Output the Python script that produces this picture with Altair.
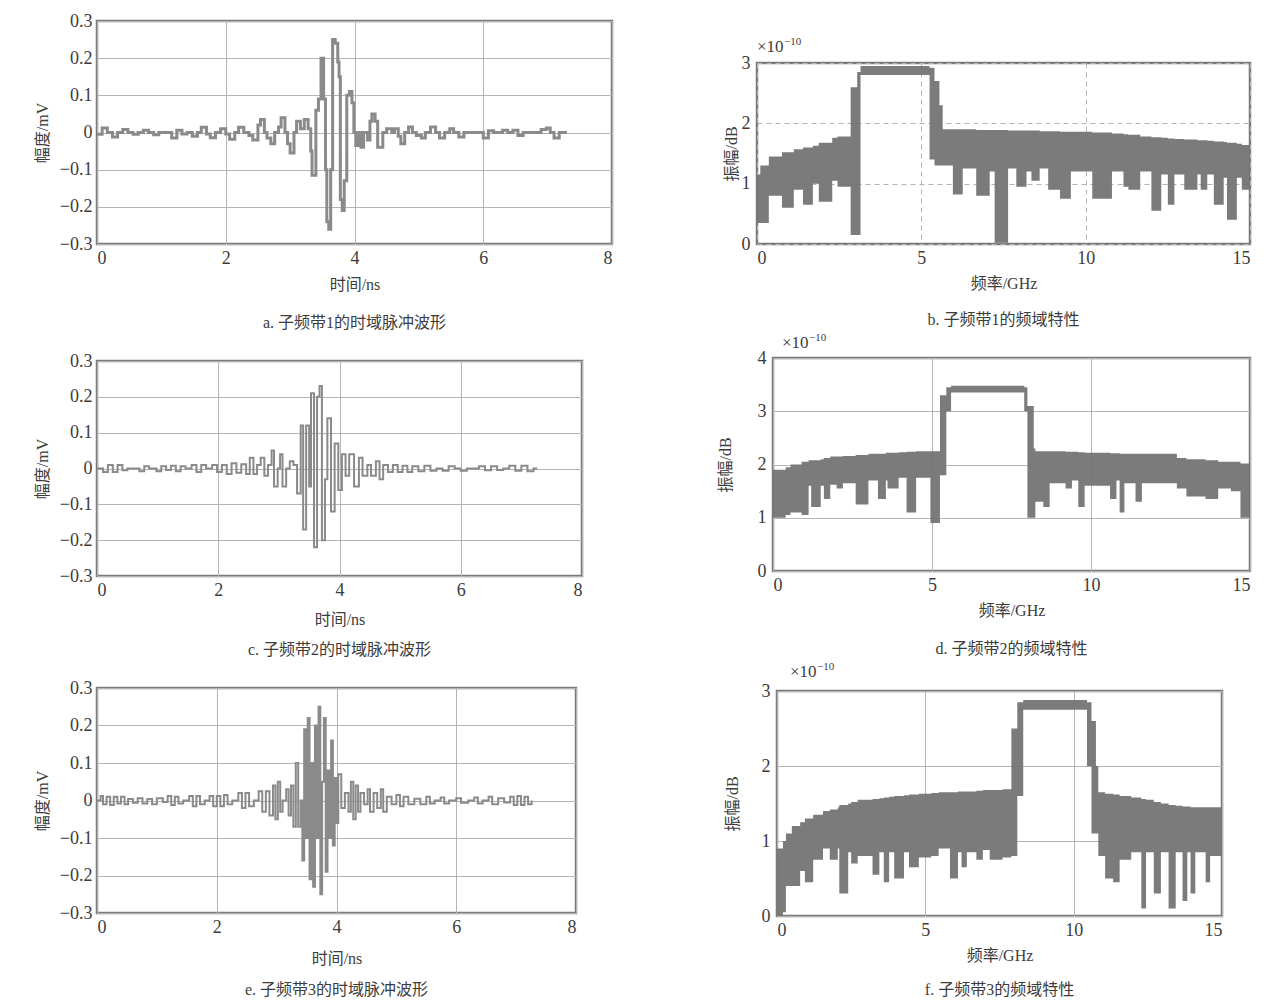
import altair as alt
import pandas as pd

# ---------------- time-domain waveforms (ns, mV) ----------------
t_a = [0.00, 0.08, 0.16, 0.24, 0.32, 0.40, 0.48, 0.56, 0.64, 0.72, 0.80, 0.88, 0.96, 1.16, 1.24,
       1.32, 1.40, 1.48, 1.56, 1.62, 1.70, 1.76, 1.84, 1.92, 2.00, 2.06, 2.14, 2.20, 2.28, 2.36,
       2.42, 2.50, 2.54, 2.60, 2.64, 2.70, 2.76, 2.82, 2.86, 2.92, 2.96, 3.00, 3.06, 3.10, 3.16,
       3.22, 3.28, 3.32, 3.34, 3.40, 3.44, 3.48, 3.52, 3.55, 3.57, 3.60, 3.63, 3.66, 3.70, 3.74,
       3.76, 3.78, 3.81, 3.84, 3.88, 3.92, 3.96, 3.99, 4.02, 4.06, 4.10, 4.14, 4.20, 4.24, 4.27,
       4.32, 4.36, 4.40, 4.44, 4.50, 4.58, 4.62, 4.68, 4.72, 4.78, 4.84, 4.90, 4.96, 5.04, 5.10,
       5.18, 5.26, 5.32, 5.40, 5.48, 5.54, 5.62, 5.70, 6.00, 6.08, 6.16, 6.30, 6.38, 6.46, 6.54,
       6.62, 6.90, 6.98, 7.04, 7.10, 7.18, 7.30]
v_a = [-0.005, 0.012, 0.0, -0.012, 0.0, 0.008, 0.0, -0.005, 0.0, 0.006, 0.0, -0.006, 0.0, -0.015, 0.006,
       -0.004, 0.0, -0.01, 0.0, 0.014, -0.004, -0.014, 0.0, 0.01, -0.004, -0.018, 0.0, 0.014, 0.0, -0.008,
       -0.02, 0.02, 0.035, 0.0, -0.015, -0.03, 0.0, 0.015, 0.04, 0.0, -0.03, -0.055, 0.0, 0.03, 0.01,
       0.035, 0.01, -0.05, -0.115, 0.06, 0.09, 0.2, 0.09, -0.1, -0.24, -0.26, -0.1, 0.25, 0.24, 0.19,
       0.15, -0.18, -0.21, -0.13, 0.1, 0.11, 0.08, 0.0, -0.035, 0.0, -0.04, 0.0, -0.02, 0.03, 0.05,
       0.03, -0.04, -0.04, 0.0, 0.01, 0.0, 0.01, -0.01, -0.03, 0.0, 0.015, 0.0, -0.008, -0.015, 0.0,
       0.015, 0.0, -0.015, 0.0, 0.01, 0.0, -0.012, 0.0, -0.015, 0.005, 0.0, 0.006, 0.0, 0.006, -0.008,
       0.0, 0.008, 0.012, 0.0, -0.015, 0.0, 0.0]

t_c = [0.00, 0.10, 0.18, 0.26, 0.34, 0.42, 0.50, 0.70, 0.78, 0.86, 0.98, 1.06, 1.14, 1.22, 1.30,
       1.38, 1.46, 1.56, 1.64, 1.72, 1.80, 1.90, 1.98, 2.06, 2.14, 2.22, 2.30, 2.38, 2.46, 2.52,
       2.58, 2.64, 2.70, 2.76, 2.82, 2.88, 2.92, 2.98, 3.02, 3.06, 3.12, 3.18, 3.24, 3.30, 3.36,
       3.40, 3.45, 3.50, 3.53, 3.58, 3.63, 3.67, 3.71, 3.76, 3.80, 3.86, 3.92, 3.98, 4.04, 4.10,
       4.16, 4.24, 4.32, 4.38, 4.46, 4.52, 4.60, 4.66, 4.72, 4.80, 4.88, 4.96, 5.04, 5.12, 5.20,
       5.30, 5.40, 5.50, 5.60, 5.70, 5.80, 5.90, 6.00, 6.10, 6.30, 6.40, 6.50, 6.60, 6.70, 6.80,
       6.90, 7.00, 7.10, 7.20, 7.26]
v_c = [0.0, -0.01, 0.01, -0.01, 0.01, -0.005, 0.0, -0.008, 0.006, 0.0, -0.008, 0.006, -0.004, 0.008, -0.008,
       0.006, 0.0, 0.01, -0.01, 0.01, 0.0, 0.01, -0.01, 0.01, -0.015, 0.015, -0.012, 0.012, -0.015, 0.03,
       -0.015, 0.01, 0.03, -0.02, 0.01, 0.05, -0.05, 0.0, 0.04, -0.05, 0.0, 0.02, 0.01, -0.07, 0.12,
       -0.17, 0.12, -0.05, 0.21, -0.22, 0.2, 0.23, -0.2, -0.03, 0.14, -0.12, 0.07, -0.06, 0.04, -0.02,
       0.04, -0.05, 0.03, -0.02, 0.01, -0.02, 0.02, -0.03, 0.01, -0.01, 0.01, -0.01, 0.008, -0.01, 0.006,
       -0.008, 0.008, -0.006, 0.0, -0.006, 0.006, 0.0, -0.006, 0.0, 0.006, -0.005, 0.006, -0.004, 0.0, 0.008,
       -0.006, 0.008, -0.008, 0.0, 0.0]

t_e = [0.00, 0.06, 0.10, 0.16, 0.22, 0.28, 0.34, 0.40, 0.46, 0.52, 0.60, 0.68, 0.76, 0.84, 0.92,
       1.00, 1.10, 1.18, 1.24, 1.30, 1.36, 1.44, 1.54, 1.60, 1.66, 1.72, 1.80, 1.88, 1.94, 2.00,
       2.06, 2.12, 2.18, 2.26, 2.36, 2.42, 2.48, 2.54, 2.62, 2.70, 2.76, 2.82, 2.88, 2.94, 2.98,
       3.02, 3.06, 3.10, 3.16, 3.20, 3.24, 3.28, 3.32, 3.36, 3.40, 3.43, 3.46, 3.49, 3.52, 3.55,
       3.58, 3.61, 3.64, 3.67, 3.70, 3.73, 3.76, 3.79, 3.82, 3.85, 3.88, 3.91, 3.94, 3.97, 4.00,
       4.03, 4.08, 4.14, 4.20, 4.24, 4.28, 4.32, 4.36, 4.40, 4.46, 4.52, 4.56, 4.62, 4.68, 4.74,
       4.78, 4.84, 4.92, 5.00, 5.06, 5.12, 5.20, 5.30, 5.40, 5.50, 5.56, 5.64, 5.74, 5.80, 5.88,
       6.00, 6.08, 6.20, 6.30, 6.36, 6.44, 6.54, 6.60, 6.70, 6.80, 6.90, 6.96, 7.02, 7.08, 7.14,
       7.20, 7.26]
v_e = [0.0, 0.012, -0.01, 0.01, -0.012, 0.01, -0.008, 0.01, -0.01, 0.004, -0.006, 0.006, -0.008, 0.004, -0.01,
       0.006, -0.004, 0.012, -0.012, 0.01, -0.008, 0.0, 0.012, -0.015, 0.012, -0.01, 0.0, 0.012, -0.015, 0.012,
       -0.015, 0.015, -0.01, 0.0, 0.02, -0.02, 0.02, -0.015, 0.0, 0.025, -0.03, 0.025, -0.04, 0.04, -0.05,
       0.05, -0.03, 0.0, 0.03, -0.04, 0.04, -0.07, 0.1, -0.07, 0.0, -0.16, 0.19, -0.1, 0.22, -0.21,
       0.1, -0.23, 0.2, -0.1, 0.25, -0.25, 0.05, 0.22, -0.19, 0.08, -0.1, 0.16, -0.12, 0.06, -0.06,
       0.07, -0.02, 0.02, -0.03, 0.05, -0.05, 0.04, -0.03, 0.02, -0.01, 0.03, -0.03, 0.02, -0.02, 0.03,
       -0.03, 0.01, -0.01, 0.015, -0.015, 0.01, -0.01, 0.005, -0.01, 0.01, -0.008, 0.0, 0.008, -0.008, 0.0,
       0.006, -0.006, 0.0, 0.008, -0.008, 0.0, 0.01, -0.01, 0.006, -0.005, 0.01, -0.012, 0.012, -0.012, 0.01,
       -0.01, 0.0]

# ---------------- spectra (GHz, x1e-10): band start, upper and lower edge ----------------
f_b = [0.00, 0.10, 0.36, 0.76, 1.12, 1.40, 1.70, 1.88, 2.29, 2.45, 2.85, 3.05, 3.15, 5.25, 5.40,
       5.55, 5.65, 5.96, 6.26, 6.67, 7.08, 7.23, 7.64, 7.89, 8.20, 8.35, 8.60, 8.86, 9.22, 9.55,
       10.2, 10.8, 11.15, 11.30, 11.66, 12.0, 12.3, 12.5, 12.7, 13.0, 13.4, 13.5, 13.7, 13.9, 14.2,
       14.3, 14.6, 14.75, 15.0]
u_b = [1.15, 1.30, 1.45, 1.52, 1.57, 1.60, 1.63, 1.68, 1.76, 1.78, 2.60, 2.85, 2.95, 2.92, 2.70,
       2.30, 1.90, 1.90, 1.90, 1.89, 1.89, 1.89, 1.88, 1.88, 1.88, 1.88, 1.87, 1.87, 1.86, 1.86,
       1.85, 1.83, 1.82, 1.81, 1.78, 1.77, 1.76, 1.75, 1.74, 1.73, 1.72, 1.72, 1.71, 1.70, 1.69,
       1.68, 1.66, 1.64, 1.62]
l_b = [0.35, 0.35, 0.80, 0.60, 0.90, 0.65, 1.00, 0.70, 1.05, 0.95, 0.15, 0.15, 2.80, 1.40, 1.30,
       1.30, 1.30, 0.82, 1.25, 0.80, 1.20, 0.02, 1.25, 0.95, 1.20, 1.05, 1.25, 0.90, 0.75, 1.20,
       0.75, 1.20, 0.95, 0.90, 1.20, 0.55, 1.15, 0.65, 1.15, 0.90, 1.15, 0.90, 1.15, 0.65, 1.10,
       0.40, 1.10, 0.90, 0.90]

f_d = [0.00, 0.40, 0.55, 0.90, 1.12, 1.20, 1.50, 1.60, 1.80, 2.00, 2.20, 2.60, 3.00, 3.30, 3.55,
       3.60, 3.95, 4.20, 4.50, 4.95, 5.25, 5.45, 5.60, 7.90, 8.00, 8.20, 8.25, 8.50, 8.70, 9.20,
       9.40, 9.60, 9.80, 10.6, 10.8, 10.9, 11.05, 11.4, 11.6, 12.7, 13.0, 13.6, 14.0, 14.4, 14.7,
       15.0]
u_d = [1.90, 1.95, 2.00, 2.05, 2.08, 2.08, 2.10, 2.12, 2.15, 2.15, 2.16, 2.18, 2.20, 2.20, 2.22,
       2.22, 2.23, 2.24, 2.25, 2.25, 3.30, 3.45, 3.48, 3.45, 3.10, 2.30, 2.25, 2.25, 2.25, 2.24,
       2.24, 2.23, 2.22, 2.21, 2.21, 2.20, 2.20, 2.20, 2.20, 2.12, 2.10, 2.08, 2.05, 2.05, 2.02,
       2.02]
l_d = [1.00, 1.05, 1.10, 1.05, 1.60, 1.20, 1.60, 1.35, 1.62, 1.55, 1.65, 1.25, 1.70, 1.35, 1.70,
       1.55, 1.75, 1.10, 1.75, 0.90, 1.80, 3.00, 3.35, 3.00, 1.00, 1.00, 1.30, 1.20, 1.65, 1.55,
       1.70, 1.20, 1.60, 1.35, 1.70, 1.10, 1.65, 1.30, 1.65, 1.55, 1.40, 1.35, 1.55, 1.50, 1.00,
       1.00]

f_f = [0.00, 0.20, 0.30, 0.50, 0.78, 0.94, 1.22, 1.55, 1.78, 2.05, 2.10, 2.40, 2.50, 2.72, 3.22,
       3.45, 3.60, 3.78, 3.95, 4.28, 4.45, 4.78, 5.20, 5.45, 5.83, 6.10, 6.22, 6.40, 6.72, 6.94,
       7.17, 7.60, 7.90, 8.10, 8.30, 10.45, 10.60, 10.75, 10.83, 11.06, 11.33, 11.55, 11.94, 12.28, 12.44,
       12.70, 12.94, 13.20, 13.44, 13.67, 13.83, 13.94, 14.10, 14.20, 14.45, 14.60, 14.80, 15.00]
u_f = [0.90, 1.00, 1.10, 1.20, 1.25, 1.30, 1.35, 1.40, 1.42, 1.45, 1.48, 1.50, 1.52, 1.55, 1.56,
       1.57, 1.58, 1.59, 1.60, 1.61, 1.62, 1.63, 1.64, 1.65, 1.65, 1.66, 1.66, 1.66, 1.67, 1.68,
       1.68, 1.69, 2.50, 2.85, 2.88, 2.85, 2.60, 2.00, 1.65, 1.63, 1.62, 1.60, 1.58, 1.56, 1.55,
       1.52, 1.50, 1.48, 1.47, 1.46, 1.46, 1.45, 1.45, 1.45, 1.45, 1.45, 1.45, 1.45]
l_f = [0.00, 0.05, 0.40, 0.40, 0.60, 0.45, 0.75, 0.90, 0.75, 0.90, 0.30, 0.85, 0.70, 0.80, 0.55,
       0.85, 0.45, 0.85, 0.50, 0.85, 0.65, 0.78, 0.80, 0.90, 0.50, 0.85, 0.65, 0.85, 0.75, 0.88,
       0.75, 0.78, 0.80, 1.60, 2.75, 2.00, 1.10, 1.10, 0.80, 0.50, 0.45, 0.75, 0.85, 0.10, 0.85,
       0.30, 0.85, 0.10, 0.85, 0.20, 0.85, 0.30, 0.85, 0.85, 0.45, 0.80, 0.80, 0.80]

captions = ["a. 子频带1的时域脉冲波形", "b. 子频带1的频域特性",
            "c. 子频带2的时域脉冲波形", "d. 子频带2的频域特性",
            "e. 子频带3的时域脉冲波形", "f. 子频带3的频域特性"]

TRACE = "#8a8a8a"
TEXT = "#3c3c3c"
SERIF = "Liberation Serif, Noto Sans CJK SC"


def time_chart(t, v, w, h, cap, cap_off, sw, xt_pad):
    df = pd.DataFrame({"t": t, "v": v})
    return alt.Chart(df).mark_line(interpolate="step-after", color=TRACE, strokeWidth=sw).encode(
        x=alt.X("t:Q", scale=alt.Scale(domain=[0, 8], nice=False),
                axis=alt.Axis(values=[0, 2, 4, 6, 8], title="时间/ns", titlePadding=xt_pad)),
        y=alt.Y("v:Q", scale=alt.Scale(domain=[-0.3, 0.3], nice=False),
                axis=alt.Axis(values=[-0.3, -0.2, -0.1, 0, 0.1, 0.2, 0.3], format=".1~f",
                              title="幅度/mV", titlePadding=9)),
    ).properties(width=w, height=h,
                 title=alt.TitleParams(cap, orient="bottom", offset=cap_off))


def freq_chart(f, u, l, ymax, w, h, cap, cap_off, dashed, title_pad, exp_x, exp_y, xt_pad):
    df = pd.DataFrame({"f": f, "u": u, "l": l})
    grid_kw = {"gridDash": [5, 4]} if dashed else {}
    area = alt.Chart(df).mark_area(interpolate="step-after", color="#747474", opacity=0.95).encode(
        x=alt.X("f:Q", scale=alt.Scale(domain=[0, 15], nice=False),
                axis=alt.Axis(values=[0, 5, 10, 15], title="频率/GHz", titlePadding=xt_pad, **grid_kw)),
        y=alt.Y("u:Q", scale=alt.Scale(domain=[0, ymax], nice=False),
                axis=alt.Axis(values=list(range(ymax + 1)), format="d", title="振幅/dB",
                              labelPadding=7, titlePadding=title_pad, **grid_kw)),
        y2="l:Q",
    )
    base_txt = alt.Chart(pd.DataFrame({"s": ["×10"]})).mark_text(
        align="left", baseline="alphabetic", font="Liberation Serif", fontSize=17, color=TEXT
    ).encode(x=alt.value(exp_x), y=alt.value(exp_y), text="s:N")
    exp_txt = alt.Chart(pd.DataFrame({"s": ["−10"]})).mark_text(
        align="left", baseline="alphabetic", font="Liberation Serif", fontSize=11, color=TEXT
    ).encode(x=alt.value(exp_x + 27), y=alt.value(exp_y - 7), text="s:N")
    return alt.layer(area, base_txt, exp_txt).properties(
        width=w, height=h, title=alt.TitleParams(cap, orient="bottom", offset=cap_off))


def spacer(w, h):
    return alt.Chart(pd.DataFrame({"z": [0]})).mark_point(opacity=0, size=1).encode(
        x=alt.value(0), y=alt.value(0)
    ).properties(width=w, height=h, view=alt.ViewBackground(strokeOpacity=0))


a = time_chart(t_a, v_a, 515, 223, captions[0], 23, 3.0, 9)
c = time_chart(t_c, v_c, 485, 215, captions[2], 15, 2.0, 12)
e = time_chart(t_e, v_e, 479, 225, captions[4], 16, 2.0, 14)

b = freq_chart(f_b, u_b, l_b, 3, 493, 181, captions[1], 21, True, 2, 0, -11, 8)
d = freq_chart(f_d, u_d, l_d, 4, 477, 213, captions[3], 23, False, 24, 9, -10, 8)
f = freq_chart(f_f, u_f, l_f, 3, 445, 225, captions[5], 19, False, 21, 13, -14, 8)

b_row = alt.hconcat(spacer(7, 1), b, spacing=0)
d_row = alt.hconcat(spacer(1, 1), d, spacing=0)
f_row = alt.hconcat(spacer(8, 1), f, spacing=0)

left = alt.vconcat(a, c, e, spacing=17)
right = alt.vconcat(spacer(10, 13), b_row, d_row, f_row, spacing=0)

chart = alt.hconcat(left, right, spacing=99).properties(
    padding={"left": 25, "top": 2, "right": 0, "bottom": 0}
).configure_view(
    stroke="#7a7a7a", strokeWidth=2.5
).configure_axis(
    labelFont="Liberation Serif", labelFontSize=18, labelColor=TEXT, labelPadding=5,
    titleFont=SERIF, titleFontSize=16, titleFontWeight="normal", titleColor=TEXT,
    grid=True, gridColor="#b4b4b4", gridWidth=1, domain=False, ticks=False,
).configure_title(
    font=SERIF, fontSize=16, fontWeight="normal", color=TEXT, anchor="middle"
)

chart.save("out.html", embed_options={"renderer": "svg", "actions": False})
